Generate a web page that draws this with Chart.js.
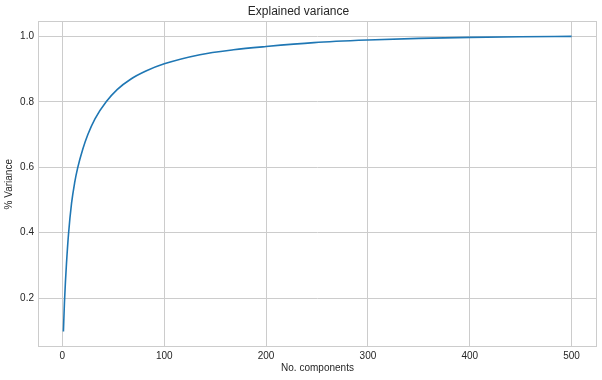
<!DOCTYPE html>
<html lang="en">
<head>
<meta charset="UTF-8">
<title>Explained variance</title>
<script src="https://cdn.jsdelivr.net/npm/chart.js"></script>
<style>
  html, body { margin: 0; padding: 0; background: #fff; }
  #wrap { width: 602px; height: 380px; }
</style>
</head>
<body>
<div id="wrap"><canvas id="chart"></canvas></div>
<script>
// values (cumulative explained variance)
const components = [1, 2, 3, 4, 6, 9, 12, 15, 20, 25, 32, 43, 54, 67, 82, 100, 135, 168, 200, 247, 300, 350, 400, 450, 500];
const variance = [0.098, 0.185, 0.25, 0.305, 0.395, 0.49, 0.552, 0.598, 0.655, 0.70, 0.748, 0.80, 0.838, 0.869, 0.894, 0.916, 0.944, 0.959, 0.969, 0.981, 0.989, 0.994, 0.997, 0.999, 1.0];
const xTicks = [0, 100, 200, 300, 400, 500];
const yTicks = [0.2, 0.4, 0.6, 0.8, 1.0];

const textColor = '#262626';
const gridColor = '#cccccc';
const font = 'Arial, "Liberation Sans", sans-serif';

// matplotlib draws all four spines
const frame = {
    id: 'frame',
    afterDraw(chart) {
        const { ctx, chartArea: a } = chart;
        ctx.save();
        ctx.strokeStyle = gridColor;
        ctx.lineWidth = 1;
        const l = Math.round(a.left) + 0.5, t = Math.round(a.top) + 0.5;
        const r = Math.round(a.right) - 0.5, b = Math.round(a.bottom) - 0.5;
        ctx.strokeRect(l, t, r - l, b - t);
        ctx.restore();
    }
};

const ctx = document.getElementById('chart').getContext('2d');
new Chart(ctx, {
    type: 'line',
    data: {
        datasets: [{
            data: components.map((c, i) => ({ x: c, y: variance[i] })),
            borderColor: '#1f77b4',
            borderWidth: 1.6,
            pointRadius: 0,
            fill: false,
            cubicInterpolationMode: 'monotone'
        }]
    },
    options: {
        responsive: true,
        maintainAspectRatio: false,
        animation: false,
        layout: { padding: { left: 0, right: 5, top: 0, bottom: 0 } },
        plugins: {
            legend: { display: false },
            tooltip: { enabled: false },
            title: {
                display: true,
                text: 'Explained variance',
                color: textColor,
                font: { family: font, size: 12, weight: 'normal' },
                padding: { top: 4, bottom: 3 }
            }
        },
        scales: {
            x: {
                type: 'linear',
                min: -23.95,
                max: 524.95,
                afterBuildTicks: s => { s.ticks = xTicks.map(v => ({ value: v })); },
                afterFit: s => { s.height = 33; },
                grid: { color: gridColor, drawTicks: false },
                border: { display: false },
                ticks: { color: textColor, padding: 3, font: { family: font, size: 10 } },
                title: {
                    display: true,
                    text: 'No. components',
                    color: textColor,
                    font: { family: font, size: 10 },
                    padding: { top: 0, bottom: 6 }
                }
            },
            y: {
                type: 'linear',
                min: 0.0504,
                max: 1.0458,
                afterBuildTicks: s => { s.ticks = yTicks.map(v => ({ value: v })); },
                afterFit: s => { s.width = 38; },
                grid: { color: gridColor, drawTicks: false },
                border: { display: false },
                ticks: {
                    color: textColor,
                    padding: 4,
                    font: { family: font, size: 10 },
                    callback: v => v.toFixed(1)
                },
                title: {
                    display: true,
                    text: '% Variance',
                    color: textColor,
                    font: { family: font, size: 10 },
                    padding: { top: 3, bottom: 3 }
                }
            }
        }
    },
    plugins: [frame]
});
</script>
</body>
</html>
